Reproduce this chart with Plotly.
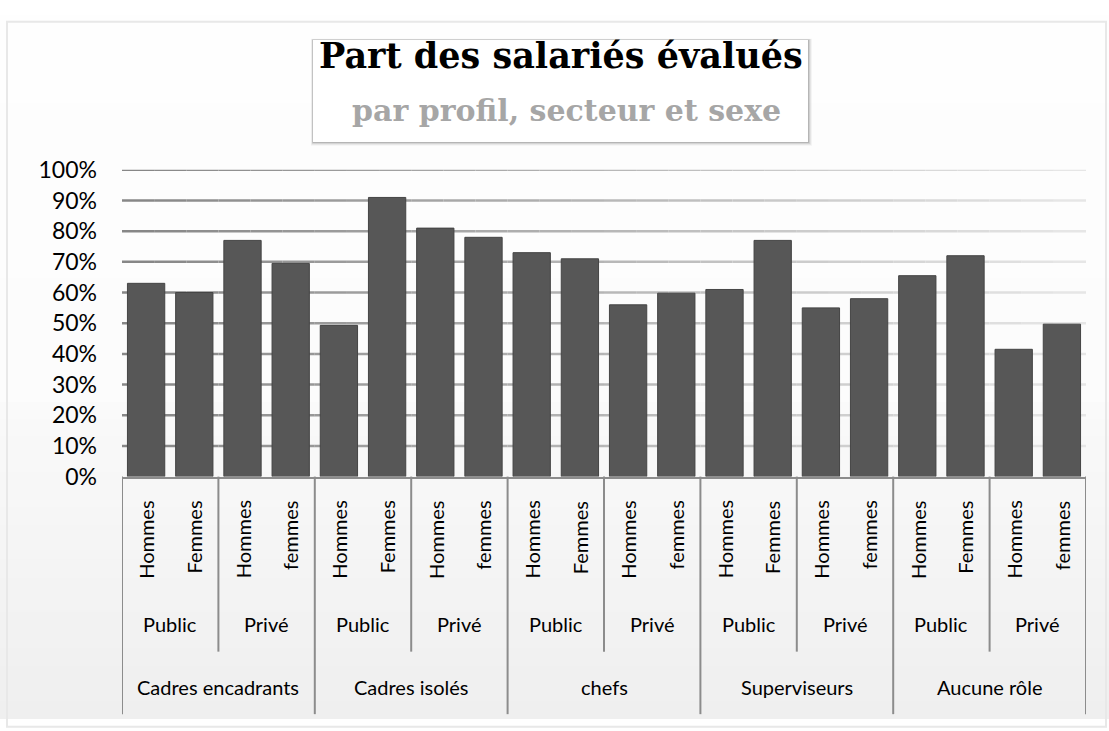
import plotly.graph_objects as go

# Data: share of employees with an appraisal, by profile, sector and sex
profils = ["Cadres encadrants", "Cadres isolés", "chefs", "Superviseurs", "Aucune rôle"]
secteurs = ["Public", "Privé"]
sexes_public = ["Hommes", "Femmes"]
sexes_prive = ["Hommes", "femmes"]
parts = [63, 60, 77, 69.5,
         49.3, 91, 81, 78,
         73, 71, 56, 59.8,
         61, 77, 55, 58,
         65.5, 72, 41.5, 49.7]
tick_vals = [0, 10, 20, 30, 40, 50, 60, 70, 80, 90, 100]
tick_text = [f"{v}%" for v in tick_vals]

W, H = 1109, 731
LABEL_FONT = "Lato, Calibri, sans-serif"
TITLE_FONT = "DejaVu Serif, Cambria, serif"


def px_y(p):
    return 1 - p / H


def px_x(p):
    return p / W


# sex label for each bar, in bar order
sexes = []
for _ in profils:
    sexes += sexes_public + sexes_prive
xs = list(range(len(parts)))

fig = go.Figure()
fig.add_trace(go.Bar(
    x=xs, y=parts,
    marker=dict(color="#575757", line=dict(color="#444444", width=1)),
    hoverinfo="y", showlegend=False,
))

shapes = []
# soft vertical background gradient
n_bands = 40
for i in range(n_bands):
    t = i / (n_bands - 1)
    g = int(round(254 - 4 * t)) if t < 0.55 else int(round(250 - 11 * (t - 0.55) / 0.45))
    shapes.append(dict(type="rect", xref="paper", yref="paper", layer="below",
                       x0=0, x1=1, y0=px_y((i + 1) * H / n_bands + 1), y1=px_y(i * H / n_bands),
                       fillcolor=f"rgb({g},{g},{g})", line=dict(width=0)))
# outer frame
shapes.append(dict(type="rect", xref="paper", yref="paper", layer="below",
                   x0=px_x(7), x1=px_x(1106), y0=px_y(740), y1=px_y(7),
                   line=dict(color="#e8e8e8", width=2), fillcolor="rgba(0,0,0,0)"))
# title box with a soft shadow
for d, a in [(4, 0.04), (3, 0.06), (2, 0.09), (1, 0.12)]:
    shapes.append(dict(type="rect", xref="paper", yref="paper", layer="below",
                       x0=px_x(313 - d / 2), x1=px_x(808 + d), y0=px_y(132 + d), y1=px_y(26 - d / 3),
                       fillcolor=f"rgba(0,0,0,{a})", line=dict(width=0)))
shapes.append(dict(type="rect", xref="paper", yref="paper", layer="below",
                   x0=px_x(313), x1=px_x(808), y0=px_y(132), y1=px_y(26),
                   fillcolor="#ffffff", line=dict(width=0)))

# gridlines fading from left to right
n_seg = 30
x_lo, x_hi = -0.5, len(parts) - 0.5
for v in tick_vals[1:]:
    for j in range(n_seg):
        t = j / (n_seg - 1)
        g = int(round(135 + 95 * t))
        shapes.append(dict(type="line", xref="x", yref="y", layer="below",
                           x0=x_lo + (x_hi - x_lo) * j / n_seg,
                           x1=x_lo + (x_hi - x_lo) * (j + 1) / n_seg,
                           y0=v, y1=v, line=dict(color=f"rgb({g},{g},{g})", width=2.5)))

# category table lines below the axis
n_per_group = len(secteurs) * 2
for k in range(len(profils) + 1):
    shapes.append(dict(type="line", xref="x", yref="paper",
                       x0=-0.5 + k * n_per_group, x1=-0.5 + k * n_per_group,
                       y0=px_y(480), y1=px_y(727), line=dict(color="#8c8c8c", width=2)))
for k in range(len(profils)):
    xm = -0.5 + k * n_per_group + 2
    shapes.append(dict(type="line", xref="x", yref="paper", x0=xm, x1=xm,
                       y0=px_y(480), y1=px_y(662), line=dict(color="#8c8c8c", width=2)))

annotations = []
for x, s in zip(xs, sexes):
    annotations.append(dict(x=x, y=px_y(503), xref="x", yref="paper", text=s, textangle=-90,
                            xanchor="center", yanchor="top", showarrow=False,
                            font=dict(family=LABEL_FONT, size=20, color="#000000")))
for g in range(len(profils)):
    for s_i, sect in enumerate(secteurs):
        annotations.append(dict(x=g * n_per_group + s_i * 2 + 0.5, y=px_y(633), xref="x", yref="paper",
                                text=sect, xanchor="center", yanchor="middle", showarrow=False,
                                font=dict(family=LABEL_FONT, size=20, color="#000000")))
    annotations.append(dict(x=g * n_per_group + 1.5, y=px_y(699), xref="x", yref="paper",
                            text=profils[g], xanchor="center", yanchor="middle", showarrow=False,
                            font=dict(family=LABEL_FONT, size=20, color="#000000")))

annotations.append(dict(x=px_x(561), y=px_y(42), xref="paper", yref="paper",
                        text="<b>Part des salariés évalués</b>", showarrow=False,
                        xanchor="center", yanchor="middle",
                        font=dict(family=TITLE_FONT, size=35, color="#000000")))
annotations.append(dict(x=px_x(566), y=px_y(99), xref="paper", yref="paper",
                        text="<b>par profil, secteur et sexe</b>", showarrow=False,
                        xanchor="center", yanchor="middle",
                        font=dict(family=TITLE_FONT, size=30, color="#a6a6a6")))

fig.update_layout(
    width=W, height=H,
    margin=dict(l=0, r=0, t=0, b=0),
    paper_bgcolor="#ffffff",
    plot_bgcolor="rgba(0,0,0,0)",
    bargap=0.226,
    shapes=shapes,
    annotations=annotations,
    xaxis=dict(domain=[px_x(122), px_x(1086)], range=[x_lo, x_hi],
               showticklabels=False, showgrid=False, zeroline=False,
               showline=True, linecolor="#8c8c8c", linewidth=2, fixedrange=True),
    yaxis=dict(domain=[px_y(480), px_y(161)], range=[0, 100],
               tickvals=tick_vals, ticktext=tick_text, showgrid=False, zeroline=False,
               showline=False, ticks="", ticklabelstandoff=24,
               tickfont=dict(family=LABEL_FONT, size=23, color="#000000"), fixedrange=True),
)

fig.write_html("out.html")
